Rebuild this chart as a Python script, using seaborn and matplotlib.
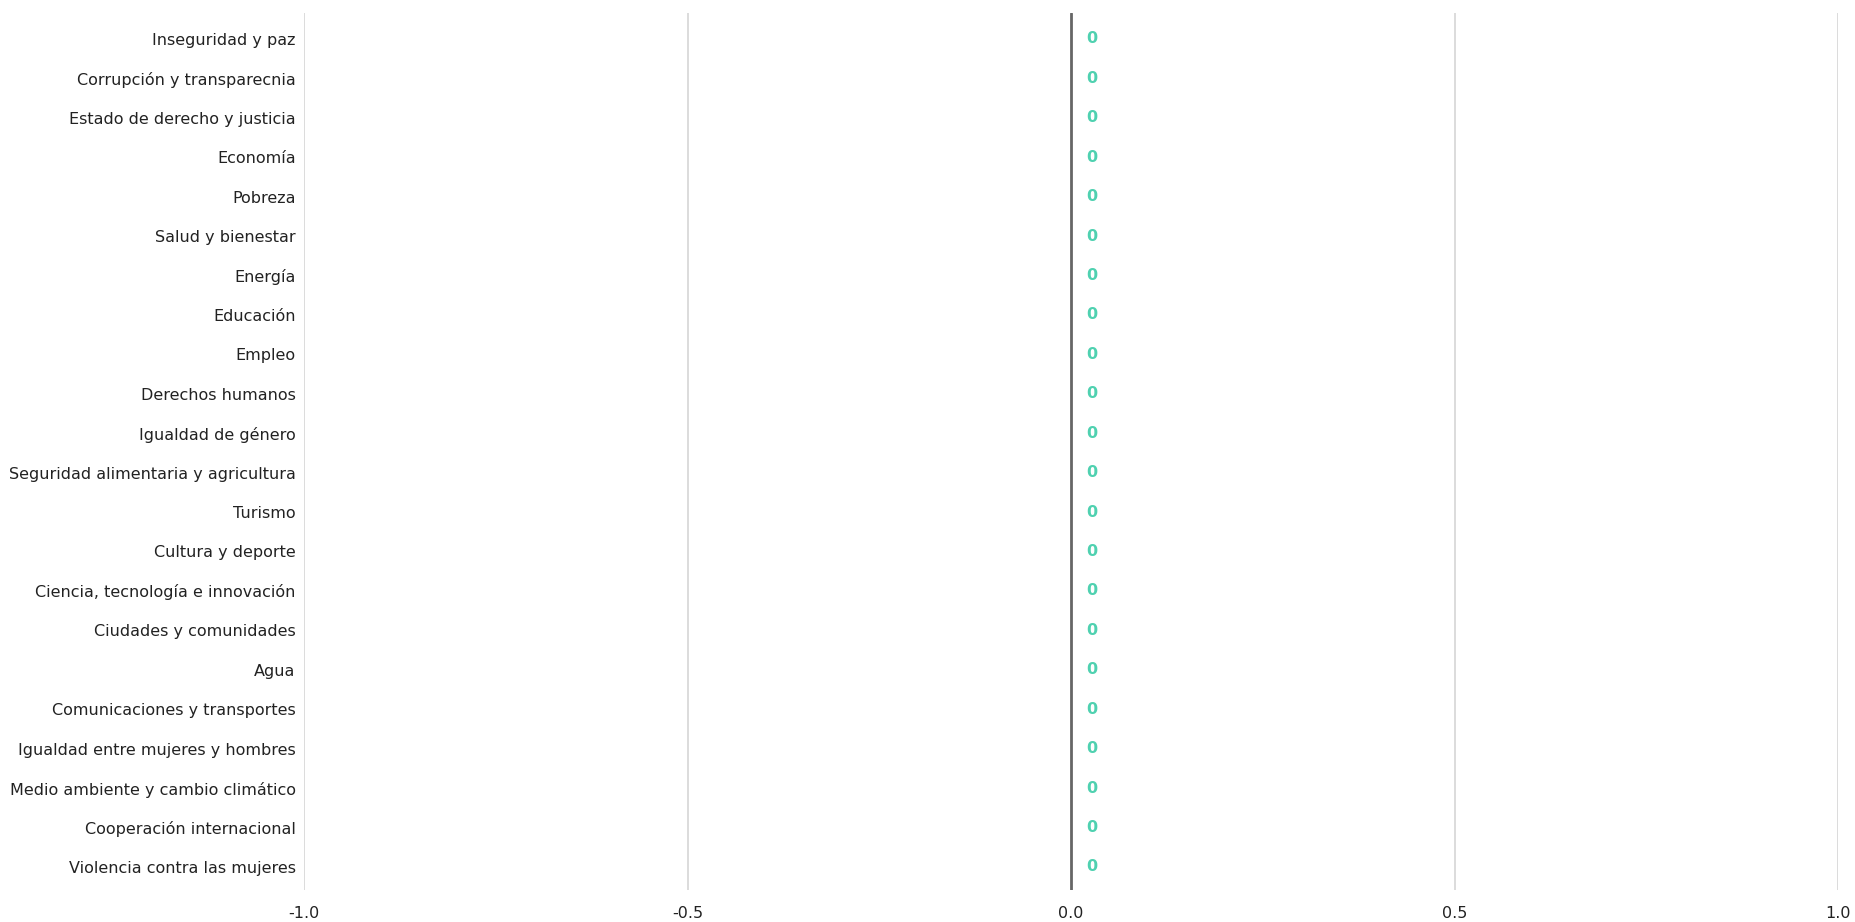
import matplotlib
matplotlib.use("Agg")
import matplotlib.pyplot as plt
import seaborn as sns
import pandas as pd

categorias = [
    "Inseguridad y paz",
    "Corrupción y transparecnia",
    "Estado de derecho y justicia",
    "Economía",
    "Pobreza",
    "Salud y bienestar",
    "Energía",
    "Educación",
    "Empleo",
    "Derechos humanos",
    "Igualdad de género",
    "Seguridad alimentaria y agricultura",
    "Turismo",
    "Cultura y deporte",
    "Ciencia, tecnología e innovación",
    "Ciudades y comunidades",
    "Agua",
    "Comunicaciones y transportes",
    "Igualdad entre mujeres y hombres",
    "Medio ambiente y cambio climático",
    "Cooperación internacional",
    "Violencia contra las mujeres",
]
valores = [0] * len(categorias)
xticks = [-1.0, -0.5, 0.0, 0.5, 1.0]

df = pd.DataFrame({"tema": categorias, "valor": valores})

sns.set_style("white")
plt.rcParams['font.family'] = ['DejaVu Sans']

fig = plt.figure(figsize=(18.56, 9.22), dpi=100)
ax = fig.add_axes([0.1638, 0.035, 0.8266, 0.951])

sns.barplot(data=df, y="tema", x="valor", color="#4fd1b0", orient="h",
            linewidth=0, ax=ax)

for cont in ax.containers:
    ax.bar_label(cont, labels=[f"{v:.0f}" for v in valores], padding=11,
                 color="#4fd1b0", fontweight="bold", fontsize=11.5)

ax.set_xlim(-1, 1)
ax.set_xticks(xticks)
ax.set_xticklabels([f"{t:.1f}" for t in xticks])
ax.set_xlabel("")
ax.set_ylabel("")
ax.set_ylim(len(categorias) - 0.42, -0.66)

for t in xticks:
    if t == 0:
        ax.axvline(t, color="#666666", lw=2, zorder=5)
    else:
        ax.axvline(t, color="#d9d9d9", lw=1.3, zorder=0)

sns.despine(ax=ax, left=True, bottom=True, top=True, right=True)
ax.tick_params(axis="both", length=0, labelsize=11.5, colors="#222222")
ax.tick_params(axis="y", pad=6)
ax.tick_params(axis="x", pad=12)

fig.savefig("out.png", dpi=100)
